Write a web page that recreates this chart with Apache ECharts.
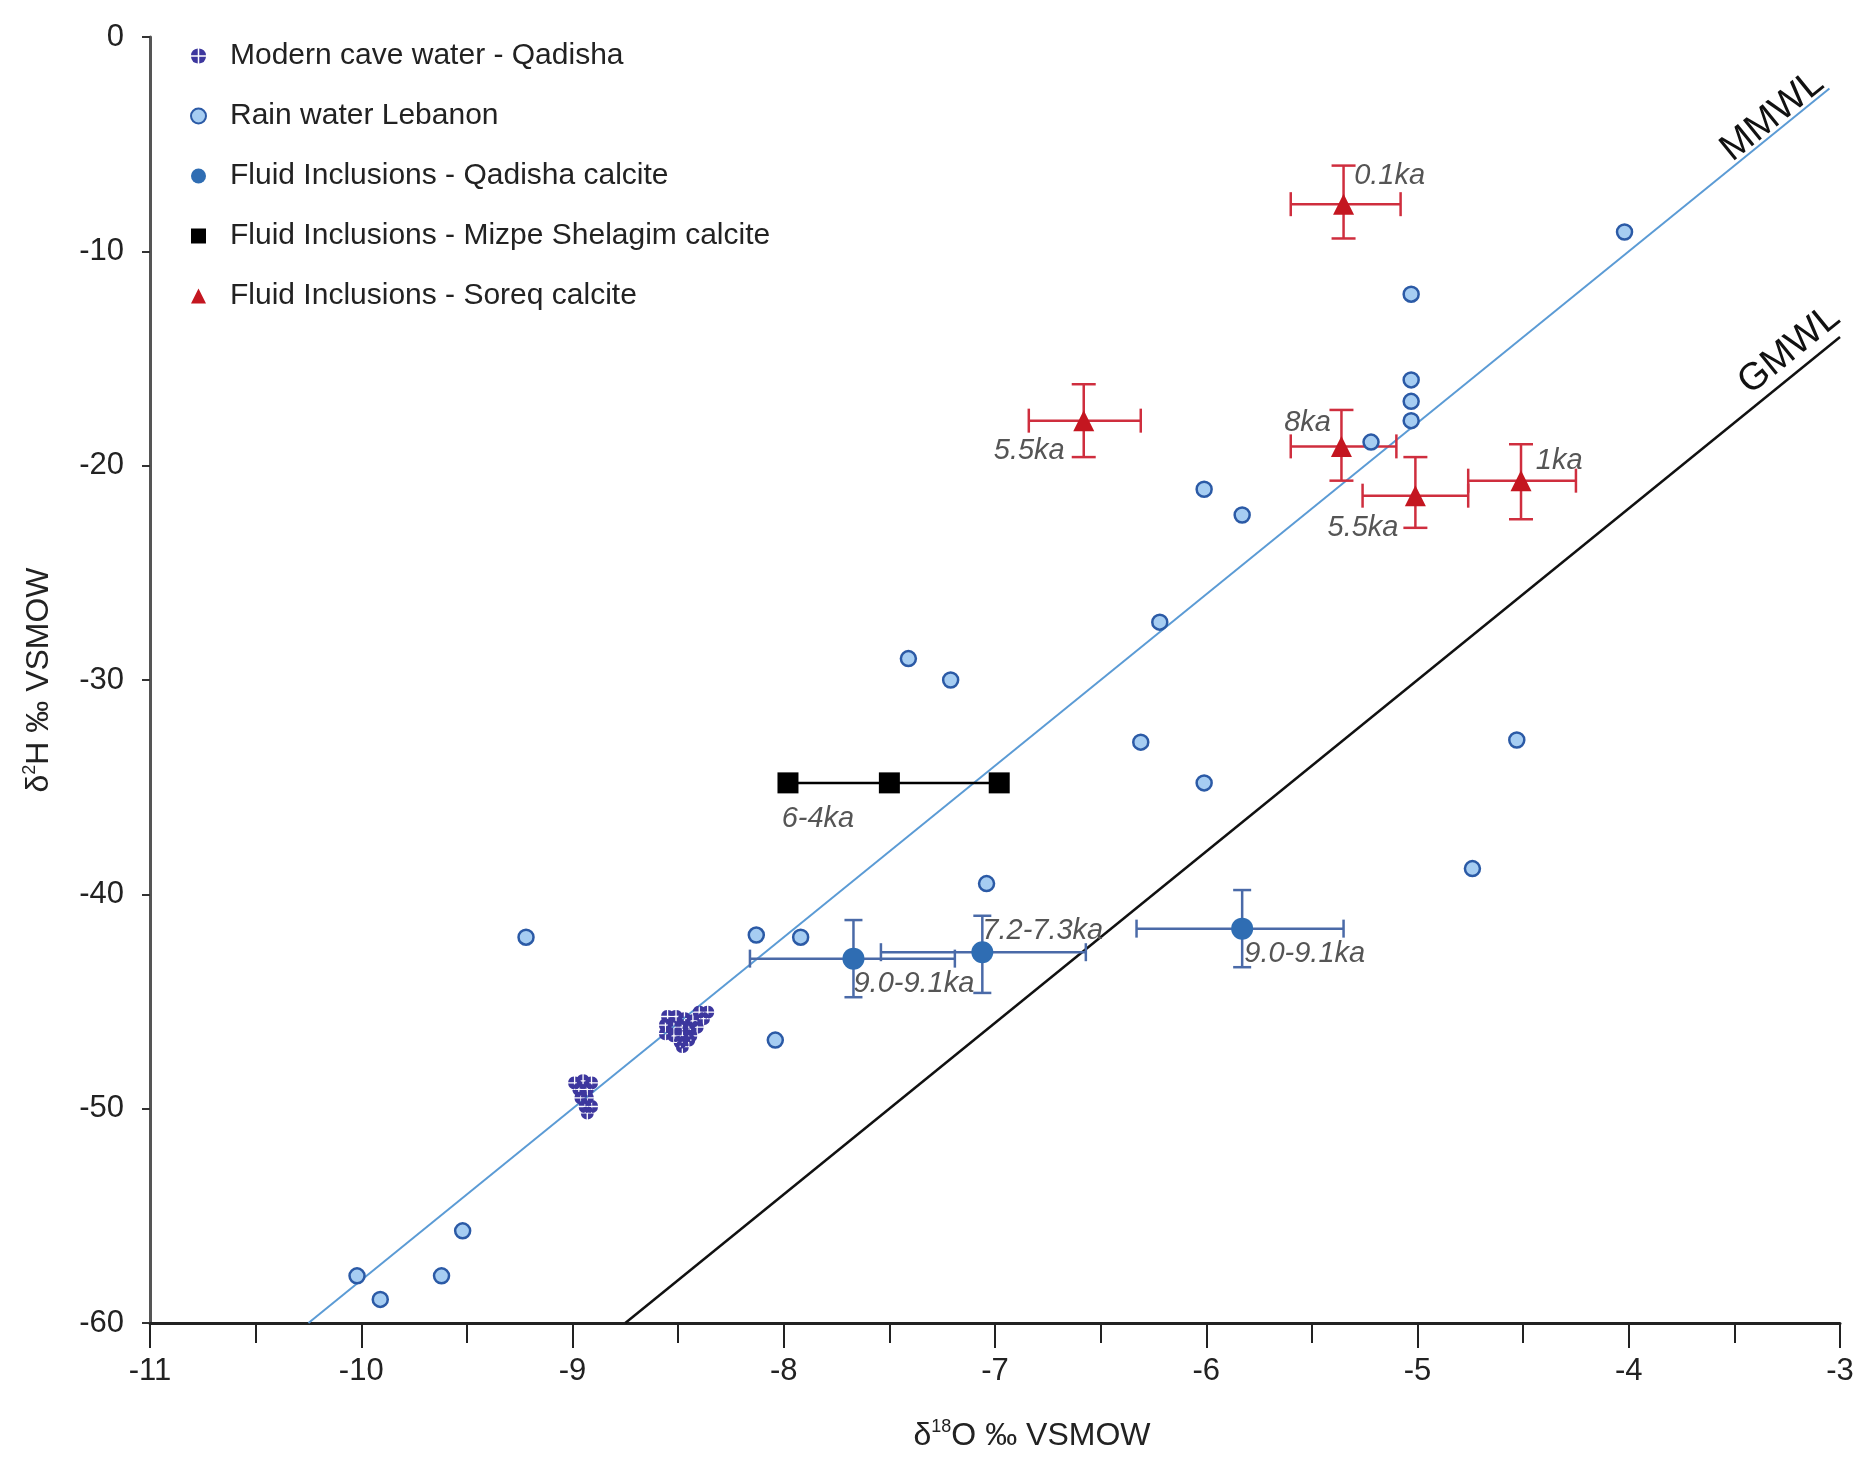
<!DOCTYPE html>
<html>
<head>
<meta charset="utf-8">
<script src="https://cdn.jsdelivr.net/npm/echarts@6/dist/echarts.min.js"></script>
<style>
  html, body { margin: 0; padding: 0; background: #fff; }
</style>
</head>
<body>
<div id="main" style="width: 1870px; height: 1461px"></div>
<script>
// δ18O, δ2H
const caveWater = [
  [-8.40, -45.5], [-8.36, -45.5], [-8.55, -45.7], [-8.51, -45.7], [-8.47, -45.8],
  [-8.43, -45.9], [-8.38, -45.8], [-8.56, -46.1], [-8.52, -46.2], [-8.48, -46.2],
  [-8.45, -46.3], [-8.41, -46.2], [-8.56, -46.5], [-8.52, -46.6], [-8.48, -46.6],
  [-8.44, -46.6], [-8.49, -46.9], [-8.45, -46.8], [-8.48, -47.1],
  [-8.99, -48.8], [-8.95, -48.7], [-8.91, -48.8], [-8.97, -49.1], [-8.93, -49.1],
  [-8.96, -49.5], [-8.93, -49.5], [-8.94, -49.9], [-8.91, -49.9], [-8.93, -50.2]
]
const rainWater = [
  [-4.02, -9.1], [-5.03, -12.0], [-5.03, -16.0], [-5.03, -17.0], [-5.03, -17.9],
  [-5.22, -18.9], [-6.01, -21.1], [-5.83, -22.3], [-6.22, -27.3], [-7.41, -29.0],
  [-7.21, -30.0], [-6.31, -32.9], [-6.01, -34.8], [-4.53, -32.8], [-4.74, -38.8],
  [-7.04, -39.5], [-9.22, -42.0], [-8.13, -41.9], [-7.92, -42.0], [-8.04, -46.8],
  [-10.02, -57.8], [-9.91, -58.9], [-9.62, -57.8], [-9.52, -55.7]
]
// x, y, x low, x high, y top, y bottom
const qadishaFI = [
  [-7.67, -43.0, -8.16, -7.19, -41.2, -44.8],
  [-7.06, -42.7, -7.54, -6.57, -41.0, -44.6],
  [-5.83, -41.6, -6.33, -5.35, -39.8, -43.4]
]
const mizpe = [[-7.98, -34.8], [-7.50, -34.8], [-6.98, -34.8]]
const soreqFI = [
  [-5.35, -7.8, -5.60, -5.08, -6.0, -9.4],
  [-5.36, -19.1, -5.60, -5.10, -17.4, -20.7],
  [-5.01, -21.4, -5.26, -4.76, -19.6, -22.9],
  [-4.51, -20.7, -4.76, -4.25, -19.0, -22.5],
  [-6.58, -17.9, -6.84, -6.31, -16.2, -19.6]
]
const mmwl = [[-10.25, -60], [-3.05, -2.4]]
const gmwl = [[-8.75, -60], [-3.0, -14.0]]
// age labels: text, anchor x, anchor y, alignment
const ageLabels = [
  ['0.1ka', -5.30, -6.5, 'left'],
  ['8ka', -5.41, -18.0, 'right'],
  ['5.5ka', -5.09, -22.9, 'right'],
  ['1ka', -4.44, -19.8, 'left'],
  ['5.5ka', -6.67, -19.3, 'right'],
  ['6-4ka', -8.01, -36.5, 'left'],
  ['9.0-9.1ka', -7.67, -44.2, 'left'],
  ['7.2-7.3ka', -7.06, -41.7, 'left'],
  ['9.0-9.1ka', -5.82, -42.8, 'left']
]
const lineLabels = [['MMWL', -3.32, -3.7, mmwl], ['GMWL', -3.24, -14.6, gmwl]]

const FONT = "'Liberation Sans', Arial, sans-serif"
const cavePath = 'path://M9 9L0.05 9A10 10 0 0 1 9 0.05Z M11 9L11 0.05A10 10 0 0 1 19.95 9Z M11 11L19.95 11A10 10 0 0 1 11 19.95Z M9 11L9 19.95A10 10 0 0 1 0.05 11Z'

function errorBars(color, cap) {
  return function (params, api) {
    const x = api.value(0)
    const y = api.value(1)
    const l = api.coord([api.value(2), y])
    const r = api.coord([api.value(3), y])
    const t = api.coord([x, api.value(4)])
    const b = api.coord([x, api.value(5)])
    const style = { stroke: color, lineWidth: 2.5 }
    const seg = (x1, y1, x2, y2) => ({ type: 'line', shape: { x1, y1, x2, y2 }, style })
    return {
      type: 'group',
      children: [
        seg(l[0], l[1], r[0], r[1]),
        seg(l[0], l[1] - cap, l[0], l[1] + cap),
        seg(r[0], r[1] - cap, r[0], r[1] + cap),
        seg(t[0], t[1], b[0], b[1]),
        seg(t[0] - cap, t[1], t[0] + cap, t[1]),
        seg(b[0] - cap, b[1], b[0] + cap, b[1])
      ]
    }
  }
}

const chart = echarts.init(document.getElementById('main'))
chart.setOption({
  animation: false,
  backgroundColor: '#fff',
  textStyle: { fontFamily: FONT },
  grid: { left: 150, right: 30, top: 37, bottom: 138 },
  legend: {
    orient: 'vertical',
    left: 185,
    top: 36,
    itemWidth: 15,
    itemHeight: 15,
    itemGap: 30,
    textStyle: { fontSize: 30, color: '#222', lineHeight: 30, fontFamily: FONT, padding: [0, 0, 0, 19] },
    data: [
      { name: 'Modern cave water - Qadisha', icon: cavePath },
      { name: 'Rain water Lebanon', icon: 'circle' },
      { name: 'Fluid Inclusions - Qadisha calcite', icon: 'circle' },
      { name: 'Fluid Inclusions - Mizpe Shelagim calcite', icon: 'rect' },
      { name: 'Fluid Inclusions - Soreq calcite', icon: 'triangle' }
    ]
  },
  xAxis: {
    type: 'value',
    min: -11,
    max: -3,
    interval: 1,
    name: '{d|δ}{sup|18}{d|O ‰ VSMOW}',
    nameLocation: 'middle',
    nameGap: 95,
    nameTextStyle: {
      padding: [0, 0, 0, 74],
      rich: {
        d: { fontSize: 32, color: '#222', lineHeight: 36, fontFamily: FONT },
        sup: { fontSize: 18, color: '#222', lineHeight: 18, verticalAlign: 'top', fontFamily: FONT }
      }
    },
    axisLine: { onZero: false, lineStyle: { color: '#222', width: 3 } },
    axisTick: { length: 25, lineStyle: { color: '#222', width: 2 } },
    minorTick: { show: true, splitNumber: 2, length: 20, lineStyle: { color: '#222', width: 2 } },
    axisLabel: { fontSize: 31, color: '#222', margin: 33 },
    splitLine: { show: false }
  },
  yAxis: {
    type: 'value',
    min: -60,
    max: 0,
    interval: 10,
    name: '{d|δ}{sup|2}{d|H ‰ VSMOW}',
    nameLocation: 'middle',
    nameGap: 93,
    nameTextStyle: {
      rich: {
        d: { fontSize: 32, color: '#222', lineHeight: 36, fontFamily: FONT },
        sup: { fontSize: 18, color: '#222', lineHeight: 18, verticalAlign: 'top', fontFamily: FONT }
      }
    },
    axisLine: { onZero: false, lineStyle: { color: '#555', width: 3 } },
    axisTick: { length: 8, lineStyle: { color: '#333', width: 2 } },
    axisLabel: { fontSize: 31, color: '#222', margin: 26 },
    splitLine: { show: false }
  },
  series: [
    {
      name: 'MMWL',
      type: 'line',
      data: mmwl,
      symbol: 'none',
      lineStyle: { color: '#5b9bd5', width: 2 },
      z: 1
    },
    {
      name: 'GMWL',
      type: 'line',
      data: gmwl,
      symbol: 'none',
      lineStyle: { color: '#111', width: 2.5 },
      z: 1
    },
    {
      name: 'Modern cave water - Qadisha',
      type: 'scatter',
      data: caveWater,
      symbol: cavePath,
      symbolSize: 13,
      itemStyle: { color: '#3d379e', opacity: 1 },
      z: 3
    },
    {
      name: 'Rain water Lebanon',
      type: 'scatter',
      data: rainWater,
      symbol: 'circle',
      symbolSize: 15,
      itemStyle: { color: '#a6cdf2', borderColor: '#2b5aa6', borderWidth: 2.5, opacity: 1 },
      z: 3
    },
    {
      name: 'qadisha-errors',
      type: 'custom',
      data: qadishaFI,
      renderItem: errorBars('#4a6aa8', 9),
      z: 2
    },
    {
      name: 'Fluid Inclusions - Qadisha calcite',
      type: 'scatter',
      data: qadishaFI.map(d => [d[0], d[1]]),
      symbol: 'circle',
      symbolSize: 22,
      itemStyle: { color: '#2f6db3', opacity: 1 },
      z: 4
    },
    {
      name: 'Fluid Inclusions - Mizpe Shelagim calcite',
      type: 'line',
      data: mizpe,
      symbol: 'rect',
      symbolSize: 21,
      itemStyle: { color: '#000' },
      lineStyle: { color: '#000', width: 2.5 },
      z: 4
    },
    {
      name: 'soreq-errors',
      type: 'custom',
      data: soreqFI,
      renderItem: errorBars('#cf2e3e', 12),
      z: 2
    },
    {
      name: 'Fluid Inclusions - Soreq calcite',
      type: 'scatter',
      data: soreqFI.map(d => [d[0], d[1]]),
      symbol: 'triangle',
      symbolSize: 21,
      itemStyle: { color: '#c41620', opacity: 1 },
      z: 4
    },
    {
      name: 'age-labels',
      type: 'custom',
      data: ageLabels.map(a => [a[1], a[2]]),
      renderItem: function (params, api) {
        const p = api.coord([api.value(0), api.value(1)])
        const a = ageLabels[params.dataIndex]
        return {
          type: 'text',
          x: p[0],
          y: p[1],
          style: {
            text: a[0],
            align: a[3],
            verticalAlign: 'middle',
            fontSize: 29,
            fontStyle: 'italic',
            fontFamily: FONT,
            fill: '#555'
          }
        }
      },
      z: 5
    },
    {
      name: 'line-labels',
      type: 'custom',
      data: lineLabels.map(a => [a[1], a[2]]),
      renderItem: function (params, api) {
        const a = lineLabels[params.dataIndex]
        const p = api.coord([api.value(0), api.value(1)])
        const p1 = api.coord(a[3][0])
        const p2 = api.coord(a[3][1])
        const angle = Math.atan2(p1[1] - p2[1], p2[0] - p1[0])
        return {
          type: 'text',
          x: p[0],
          y: p[1],
          rotation: angle,
          style: {
            text: a[0],
            align: 'center',
            verticalAlign: 'middle',
            fontSize: 38,
            fontFamily: FONT,
            fill: '#111'
          }
        }
      },
      z: 5
    }
  ]
})
</script>
</body>
</html>
